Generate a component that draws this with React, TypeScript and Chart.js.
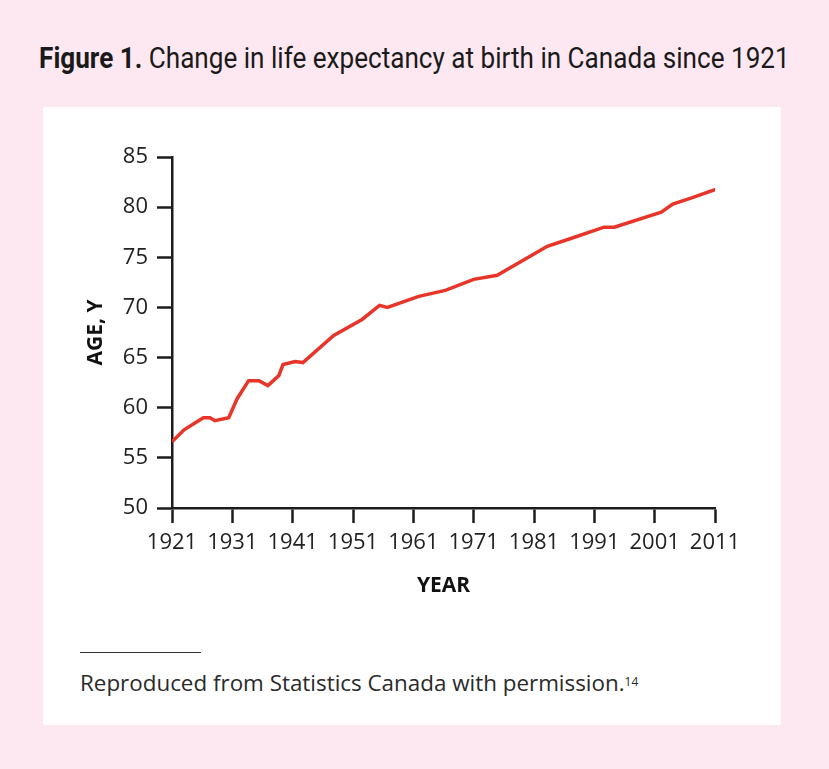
import React, { useEffect, useRef } from "react";
import { Chart, registerables } from "chart.js";

Chart.register(...registerables);

const years: number[] = [
  1921, 1923, 1924.6, 1926.2, 1927.3, 1928.1, 1930.4, 1931.8, 1933.7, 1935.4, 1936.9, 1938.7, 1939.4,
  1941.4, 1942.7, 1947.8, 1952.5, 1955.4, 1956.7, 1961.9, 1966.3, 1971, 1974.9, 1983.2, 1988.2,
  1992.6, 1994.3, 2002.1, 2004, 2007, 2011.2,
];
const lifeExpectancy: number[] = [
  56.6, 57.8, 58.4, 59.0, 59.0, 58.7, 59.0, 60.9, 62.7, 62.7, 62.2, 63.2, 64.3,
  64.6, 64.5, 67.2, 68.8, 70.2, 70.0, 71.1, 71.7, 72.8, 73.2, 76.1, 77.1,
  78.0, 78.0, 79.5, 80.3, 80.9, 81.8,
];
const xTicks: number[] = [1921, 1931, 1941, 1951, 1961, 1971, 1981, 1991, 2001, 2011];
const yTicks: number[] = [50, 55, 60, 65, 70, 75, 80, 85];

const TITLE = "Change in life expectancy at birth in Canada since 1921";
const AXIS_COLOR = "#1c1c1c";
const LINE_COLOR = "#e8352a";

export default function App() {
  const ref = useRef<HTMLCanvasElement | null>(null);

  useEffect(() => {
    document.body.style.margin = "0";
    if (!ref.current) return;
    const chart = new Chart(ref.current, {
      type: "line",
      data: {
        datasets: [
          {
            data: years.map((y, i) => ({ x: y, y: lifeExpectancy[i] })),
            borderColor: LINE_COLOR,
            borderWidth: 3.5,
            pointRadius: 0,
            tension: 0,
            fill: false,
          },
        ],
      },
      options: {
        animation: false,
        responsive: false,
        maintainAspectRatio: false,
        layout: { padding: { top: 50, right: 66, bottom: 0, left: 0 } },
        plugins: { legend: { display: false }, tooltip: { enabled: false } },
        scales: {
          x: {
            type: "linear",
            min: 1921,
            max: 2011,
            afterBuildTicks: (scale: any) => {
              scale.ticks = xTicks.map((v) => ({ value: v }));
            },
            afterFit: (scale: any) => {
              scale.height = 112;
            },
            ticks: {
              callback: (v: any) => String(v),
              color: "#222",
              font: { family: "'Open Sans', sans-serif", size: 22 },
              padding: 7,
              maxRotation: 0,
              autoSkip: false,
            },
            grid: {
              drawOnChartArea: false,
              drawTicks: true,
              tickLength: 15,
              tickWidth: 2.5,
              tickColor: AXIS_COLOR,
            },
            border: { display: true, width: 2.5, color: AXIS_COLOR },
            title: {
              display: true,
              text: "YEAR",
              color: "#111",
              font: { family: "'Open Sans', sans-serif", size: 21, weight: "bold" },
              padding: { top: 0, bottom: 21 },
            },
          },
          y: {
            type: "linear",
            min: 50,
            max: 85,
            afterBuildTicks: (scale: any) => {
              scale.ticks = yTicks.map((v) => ({ value: v }));
            },
            afterFit: (scale: any) => {
              scale.width = 129;
            },
            ticks: {
              color: "#222",
              font: { family: "'Open Sans', sans-serif", size: 22 },
              padding: 9,
            },
            grid: {
              drawOnChartArea: false,
              drawTicks: true,
              tickLength: 15,
              tickWidth: 2.5,
              tickColor: AXIS_COLOR,
            },
            border: { display: true, width: 2.5, color: AXIS_COLOR },
            title: {
              display: true,
              text: "AGE, Y",
              color: "#111",
              font: { family: "'Open Sans', sans-serif", size: 21, weight: "bold" },
              padding: { top: 40, bottom: 0 },
            },
          },
        },
      },
    });
    return () => chart.destroy();
  }, []);

  return (
    <div
      style={{
        position: "fixed",
        left: 0,
        top: 0,
        width: 829,
        height: 769,
        background: "#fde8f1",
        overflow: "hidden",
      }}
    >
      <div
        style={{
          position: "absolute",
          left: -100,
          top: 39,
          width: 1029,
          textAlign: "center",
          fontFamily: "Roboto, sans-serif",
          fontSize: 30,
          color: "#1a1a1a",
          whiteSpace: "nowrap",
          lineHeight: "38px",
        }}
      >
        <span style={{ display: "inline-block", transform: "scaleX(0.87)", transformOrigin: "center" }}>
          <b>Figure 1.</b> {TITLE}
        </span>
      </div>
      <div
        style={{
          position: "absolute",
          left: 43,
          top: 107,
          width: 738,
          height: 618,
          background: "#ffffff",
        }}
      >
        <canvas ref={ref} width={738} height={513} style={{ position: "absolute", left: 0, top: 0 }} />
        <div
          style={{
            position: "absolute",
            left: 37,
            top: 545,
            width: 121,
            height: 1,
            background: "#333",
          }}
        />
        <div
          style={{
            position: "absolute",
            left: 37,
            top: 560,
            fontFamily: "'Open Sans', sans-serif",
            fontSize: 22.4,
            lineHeight: "32px",
            color: "#2a2a2a",
            whiteSpace: "nowrap",
          }}
        >
          Reproduced from Statistics Canada with permission.
          <sup style={{ fontSize: 12, verticalAlign: "top", position: "relative", top: -1 }}>14</sup>
        </div>
      </div>
    </div>
  );
}
